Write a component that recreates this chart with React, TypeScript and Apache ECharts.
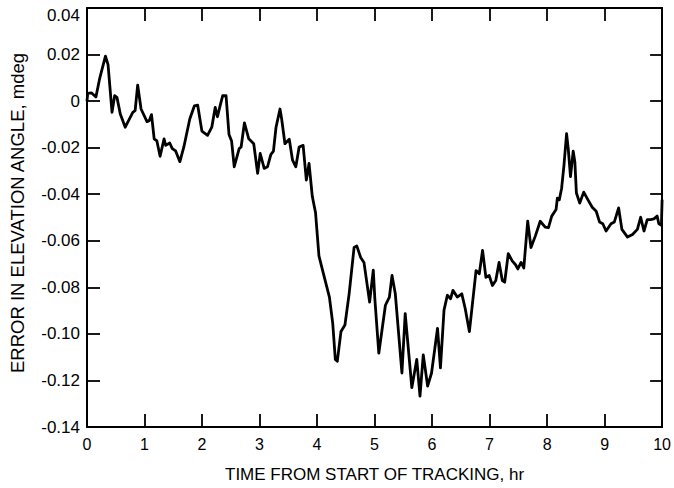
import React, { useEffect, useRef } from "react";
import * as echarts from "echarts";

const timeHr: number[] = [
  0.0, 0.012, 0.081, 0.155, 0.223, 0.321, 0.366, 0.435, 0.481, 0.521, 0.579, 0.665, 0.796, 0.837, 0.881, 0.94,
  1.043, 1.082, 1.122, 1.168, 1.215, 1.271, 1.34, 1.369, 1.438, 1.483, 1.541, 1.615, 1.684, 1.787, 1.868, 1.924,
  1.998, 2.096, 2.17, 2.229, 2.268, 2.325, 2.359, 2.418, 2.469, 2.514, 2.56, 2.646, 2.68, 2.737, 2.813, 2.899,
  2.967, 3.012, 3.081, 3.139, 3.196, 3.242, 3.287, 3.356, 3.385, 3.442, 3.517, 3.574, 3.631, 3.689, 3.758, 3.814,
  3.861, 3.918, 3.974, 4.033, 4.112, 4.215, 4.273, 4.318, 4.352, 4.416, 4.485, 4.558, 4.644, 4.691, 4.759, 4.816,
  4.914, 4.978, 5.005, 5.074, 5.189, 5.258, 5.304, 5.361, 5.476, 5.533, 5.648, 5.734, 5.79, 5.847, 5.923, 5.991,
  6.095, 6.146, 6.208, 6.266, 6.323, 6.363, 6.438, 6.517, 6.576, 6.649, 6.765, 6.821, 6.878, 6.936, 6.993, 7.05,
  7.108, 7.165, 7.222, 7.263, 7.325, 7.393, 7.452, 7.491, 7.548, 7.595, 7.663, 7.72, 7.795, 7.881, 7.967, 8.024,
  8.081, 8.156, 8.179, 8.213, 8.253, 8.294, 8.339, 8.368, 8.407, 8.454, 8.483, 8.51, 8.568, 8.637, 8.711, 8.785,
  8.854, 8.912, 8.969, 9.026, 9.112, 9.17, 9.244, 9.301, 9.399, 9.485, 9.57, 9.627, 9.685, 9.742, 9.799, 9.857,
  9.914, 9.943, 9.988, 10.0,
];

const errorMdeg: number[] = [
  0.0, 0.0033, 0.0035, 0.0018, 0.01, 0.0193, 0.0157, -0.0048, 0.0023, 0.0016, -0.0055, -0.0112, -0.0048, -0.0041, 0.0069, -0.0034,
  -0.0088, -0.0084, -0.0058, -0.0162, -0.0171, -0.0237, -0.0162, -0.019, -0.018, -0.0204, -0.0214, -0.026, -0.0197, -0.0077, -0.002, -0.0017,
  -0.0129, -0.0147, -0.0112, -0.0027, -0.0067, -0.001, 0.0023, 0.0023, -0.0143, -0.0171, -0.0282, -0.0204, -0.0197, -0.0094, -0.0162, -0.0183,
  -0.031, -0.0225, -0.0289, -0.0282, -0.023, -0.0215, -0.0112, -0.0034, -0.0077, -0.0183, -0.0164, -0.0254, -0.0282, -0.0197, -0.019, -0.0339,
  -0.0268, -0.041, -0.048, -0.0665, -0.0742, -0.0842, -0.0955, -0.111, -0.1118, -0.099, -0.0962, -0.0828, -0.0629, -0.0622, -0.0672, -0.0693,
  -0.0863, -0.0726, -0.0849, -0.1083, -0.0877, -0.0842, -0.0749, -0.0828, -0.1168, -0.0913, -0.1231, -0.111, -0.1267, -0.109, -0.1224, -0.1168,
  -0.0976, -0.1146, -0.0898, -0.0834, -0.0849, -0.0813, -0.0842, -0.0828, -0.0891, -0.099, -0.0728, -0.0742, -0.0641, -0.0757, -0.0749, -0.0792,
  -0.0771, -0.0693, -0.0771, -0.0778, -0.0655, -0.0686, -0.0703, -0.0721, -0.0693, -0.0717, -0.0516, -0.0629, -0.058, -0.0516, -0.0541, -0.0544,
  -0.0494, -0.0466, -0.0417, -0.0424, -0.0374, -0.0275, -0.014, -0.0204, -0.0324, -0.0215, -0.0261, -0.0395, -0.0438, -0.0391, -0.0424, -0.0456,
  -0.0473, -0.0519, -0.0527, -0.0558, -0.0527, -0.0519, -0.0459, -0.0551, -0.0584, -0.0573, -0.0551, -0.0499, -0.0558, -0.0509, -0.0509, -0.0506,
  -0.0494, -0.0527, -0.0533, -0.0424,
];

const xTicks = { min: 0, max: 10, interval: 1 };
const yTicks = { min: -0.14, max: 0.04, interval: 0.02 };

const xTitle = "TIME FROM START OF TRACKING, hr";
const yTitle = "ERROR IN ELEVATION ANGLE, mdeg";

const FONT = "'Liberation Sans', Arial, Helvetica, sans-serif";

function fmtY(v: number): string {
  if (Math.abs(v) < 1e-9) return "0";
  const s = v.toFixed(2);
  if (Math.abs(v - yTicks.max) < 1e-9) return "{top|" + s + "}";
  return s;
}

export default function App() {
  const ref = useRef<HTMLDivElement>(null);
  useEffect(() => {
    if (!ref.current) return;
    const chart = echarts.init(ref.current, undefined, { renderer: "svg" });
    const data = timeHr.map((t, i) => [t, errorMdeg[i]]);
    const lineStyle = { color: "#000", width: 2 };
    const tickStyle = { color: "#000", width: 1.8 };
    const lblStyle = { color: "#000", fontSize: 17, fontFamily: FONT };
    chart.setOption({
      animation: false,
      backgroundColor: "#fff",
      grid: { left: 87, right: 3.5, top: 8, bottom: 56.3, containLabel: false },
      xAxis: [
        {
          type: "value",
          position: "bottom",
          min: xTicks.min,
          max: xTicks.max,
          interval: xTicks.interval,
          axisLine: { show: true, onZero: false, lineStyle },
          axisTick: { show: true, inside: true, length: 13, lineStyle: tickStyle },
          axisLabel: { show: true, margin: 9, color: "#000", fontSize: 16, fontFamily: FONT },
          splitLine: { show: false },
          name: xTitle,
          nameLocation: "middle",
          nameGap: 39,
          nameTextStyle: { color: "#000", fontSize: 17, fontFamily: FONT },
        },
        {
          type: "value",
          position: "top",
          min: xTicks.min,
          max: xTicks.max,
          interval: xTicks.interval,
          axisLine: { show: true, onZero: false, lineStyle },
          axisTick: { show: true, inside: true, length: 13, lineStyle: tickStyle },
          axisLabel: { show: false },
          splitLine: { show: false },
        },
      ],
      yAxis: [
        {
          type: "value",
          position: "left",
          min: yTicks.min,
          max: yTicks.max,
          interval: yTicks.interval,
          axisLine: { show: true, onZero: false, lineStyle },
          axisTick: { show: true, inside: true, length: 13, lineStyle: tickStyle },
          axisLabel: {
            show: true,
            margin: 7,
            ...lblStyle,
            formatter: fmtY,
            rich: {
              top: { ...lblStyle, padding: [14, 0, 0, 0] },
            },
          },
          splitLine: { show: false },
        },
        {
          type: "value",
          position: "right",
          min: yTicks.min,
          max: yTicks.max,
          interval: yTicks.interval,
          axisLine: { show: true, onZero: false, lineStyle },
          axisTick: { show: true, inside: true, length: 12, lineStyle: tickStyle },
          axisLabel: { show: false },
          splitLine: { show: false },
        },
      ],
      graphic: [
        {
          type: "text",
          x: 17,
          y: 213,
          rotation: Math.PI / 2,
          style: {
            text: yTitle,
            fill: "#000",
            fontSize: 18.5,
            fontFamily: FONT,
            align: "center",
            verticalAlign: "middle",
          },
        },
      ],
      series: [
        {
          type: "line",
          xAxisIndex: 0,
          yAxisIndex: 0,
          data,
          showSymbol: false,
          symbol: "none",
          lineStyle: { color: "#000", width: 2.8, join: "round" },
          clip: true,
        },
      ],
    });
    return () => chart.dispose();
  }, []);
  return (
    <div
      ref={ref}
      style={{ position: "fixed", left: 0, top: 0, width: 674, height: 488, background: "#fff" }}
    />
  );
}
